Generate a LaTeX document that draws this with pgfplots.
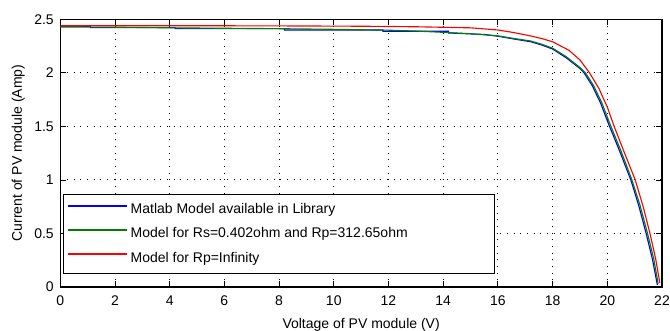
\documentclass[border=0pt]{standalone}
\usepackage{fontspec}
\setmainfont{Liberation Sans}
\usepackage{pgfplots}
\pgfplotsset{compat=1.18}
\definecolor{mgreen}{RGB}{0,128,0}
\begin{document}
\fontsize{10.5}{12}\selectfont
\begin{tikzpicture}
\useasboundingbox (-45.2pt,-33pt) rectangle (457.3pt,215.25pt);
\begin{axis}[at={(0,0)},anchor=south west, scale only axis,
  width=451.3pt, height=200.8pt,
  xmin=0,xmax=22,ymin=0,ymax=2.5,
  xtick={0,2,4,6,8,10,12,14,16,18,20,22},
  ytick={0,0.5,1,1.5,2,2.5},
  grid=major,
  major grid style={black, dash pattern=on 0.7pt off 4.3pt, line width=0.7pt},
  axis line style={line width=0.8pt},
  tick style={black,line width=0.6pt},
  major tick length=4.5pt, tick align=inside,
  /pgf/number format/assume math mode=true,
  ticklabel style={font=\fontsize{10.5}{12}\selectfont},
  xticklabel style={yshift=-3pt},
  yticklabel style={xshift=-1.2pt},
  xlabel={Voltage of PV module (V)},
  xlabel style={yshift=-2pt},
  ylabel={Current of PV module (Amp)},
  label style={font=\fontsize{10.5}{12}\selectfont},
  legend style={at={(0.005,0.052)}, anchor=south west,
    inner xsep=3pt, inner ysep=4.5pt, row sep=5pt, fill=white, draw=black},
  legend cell align=left,
  legend image code/.code={\draw[#1, line width=1.35pt] (4pt,0.5ex) -- (48pt,0.5ex);},
]
\addplot[color=blue, line width=0.85pt] coordinates {
(0,2.435)(1.1,2.435)(1.1,2.422)(4.2,2.422)(4.2,2.413)(8.2,2.413)(8.2,2.40)(11.8,2.40)(11.8,2.388)(14.2,2.388)(14.2,2.372)(15.5,2.358)(16,2.342)(16.6,2.315)(17.2,2.29)(17.6,2.26)(18,2.222)(18.5,2.14)(19,2.04)(19.15,2.0)(19.45,1.88)(19.75,1.72)(20.05,1.52)(20.45,1.27)(20.86,1.0)(21.15,0.76)(21.42,0.5)(21.65,0.26)(21.83,0.02)
};
\addlegendentry{\makebox[268pt][l]{Matlab Model available in Library}}
\addplot[color=mgreen, line width=0.85pt] coordinates {
(0,2.428)(2,2.426)(4,2.42)(6,2.416)(8,2.412)(10,2.406)(12,2.398)(13,2.39)(14,2.378)(15,2.365)(16,2.345)(16.6,2.32)(17.2,2.297)(17.6,2.267)(18,2.23)(18.5,2.15)(19,2.05)(19.2,2.0)(19.5,1.88)(19.8,1.72)(20.1,1.52)(20.5,1.27)(20.9,1.0)(21.2,0.76)(21.47,0.5)(21.7,0.26)(21.86,0.03)
};
\addlegendentry{Model for Rs=0.402ohm and Rp=312.65ohm}
\addplot[color=red, line width=0.85pt] coordinates {
(0,2.44)(4,2.44)(8,2.438)(11,2.435)(13,2.43)(15,2.42)(16,2.40)(16.6,2.375)(17.2,2.344)(17.6,2.32)(18,2.29)(18.6,2.21)(19,2.12)(19.35,2.0)(19.7,1.85)(20.0,1.68)(20.25,1.5)(20.6,1.27)(21.02,1.0)(21.3,0.76)(21.56,0.5)(21.77,0.26)(21.92,0.04)
};
\addlegendentry{Model for Rp=Infinity}
\end{axis}
\end{tikzpicture}
\end{document}
